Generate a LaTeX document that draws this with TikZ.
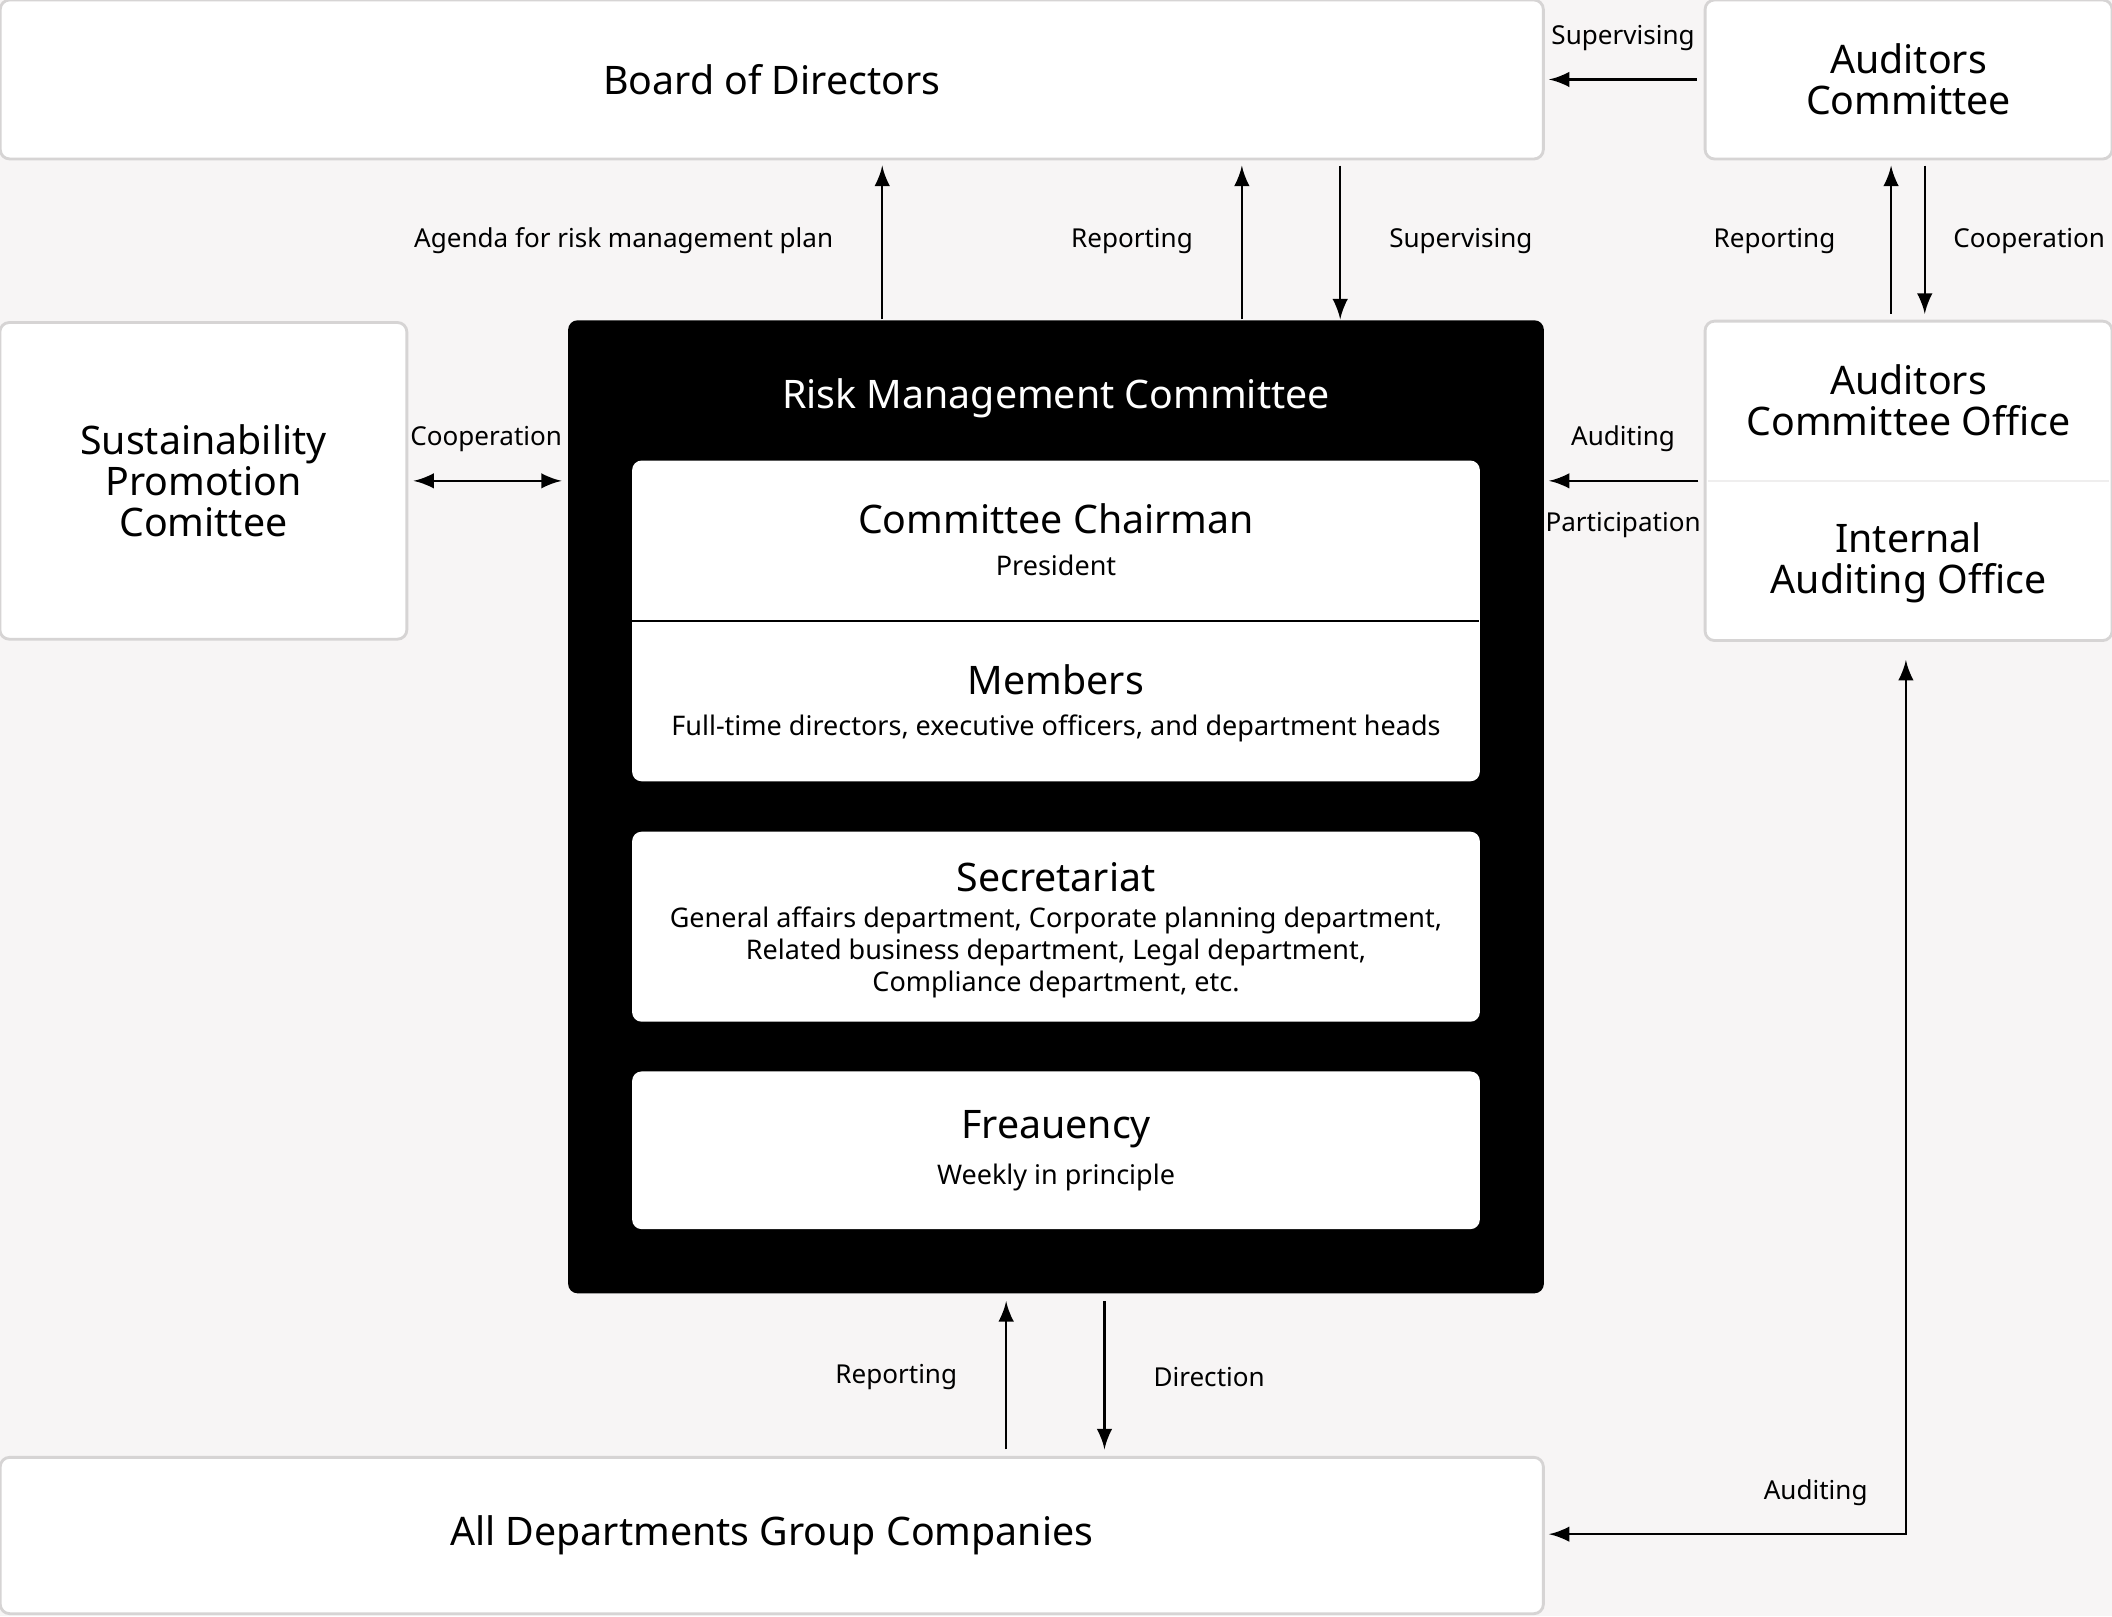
\documentclass[tikz,border=0pt]{standalone}
\usepackage{fontspec}
\setmainfont{Noto Sans}
\usetikzlibrary{positioning}
\definecolor{bg}{HTML}{F7F5F5}
\definecolor{edge}{HTML}{D6D4D4}
\tikzset{
  box/.style={draw=edge, fill=white, rounded corners=2pt, line width=0.6pt, align=center, inner sep=0pt},
  big/.style={font=\fontsize{8.3}{8.6}\selectfont\bfseries, align=center},
  small/.style={font=\fontsize{5.7}{5.9}\selectfont},
  lbl/.style={font=\fontsize{5.5}{6}\selectfont},
  arr/.style={-latex, line width=0.5pt}
}
\begin{document}
\begin{tikzpicture}[x=0.01cm, y=-0.01cm]
\fill[bg] (0,0) rectangle (1568,1200);
\useasboundingbox (0,0) rectangle (1568,1200);
% outer boxes
\node[box, big, minimum width=11.45cm, minimum height=1.18cm] (board) at (573,59) {Board of Directors};
\node[box, big, minimum width=3.02cm, minimum height=1.18cm] (audc) at (1417,59) {Auditors\\Committee};
\node[box, big, minimum width=3.02cm, minimum height=2.35cm] (sust) at (151,357) {Sustainability\\Promotion\\Comittee};
\node[box, minimum width=3.02cm, minimum height=2.37cm] (offices) at (1417,357) {};
\draw[edge!40] (1268,357) -- (1566,357);
\node[big] (aco) at (1417,297) {Auditors\\Committee Office};
\node[big] (iao) at (1417,418) {Internal\\Auditing Office};
\node[box, big, minimum width=11.45cm, minimum height=1.16cm] (alld) at (573,1140) {All Departments Group Companies};
% risk management committee
\node[fill=black, rounded corners=2pt, minimum width=7.24cm, minimum height=7.22cm] (rmc) at (784,599) {};
\node[big, text=white] (rmctitle) at (784,296) {Risk Management Committee};
\node[box, draw=none, minimum width=6.29cm, minimum height=2.38cm] (chair) at (784,461) {};
\draw (469,461) -- (1098,461);
\node[big] (chairt) at (784,385) {Committee Chairman};
\node[small] (chairs) at (784,420) {President};
\node[big] (memt) at (784,505) {Members};
\node[small] (mems) at (784,541) {Full-time directors, executive officers, and department heads};
\node[box, draw=none, minimum width=6.29cm, minimum height=1.41cm] (secr) at (784,688) {};
\node[big] (secrt) at (784,651) {Secretariat};
\node[small, align=center, font=\fontsize{5.7}{5.6}\selectfont] (secrs) at (784,707) {General affairs department, Corporate planning department,\\Related business department, Legal department,\\Compliance department, etc.};
\node[box, draw=none, minimum width=6.29cm, minimum height=1.17cm] (freq) at (784,854) {};
\node[big] (freqt) at (784,838) {Freauency};
\node[small] (freqs) at (784,874) {Weekly in principle};
% connectors
\draw[arr] (rmc.north -| 655,0) -- (655,123);
\node[lbl, anchor=east] (l1) at (631,179) {Agenda for risk management plan};
\draw[arr] (rmc.north -| 922,0) -- (922,123);
\node[lbl, anchor=east] (l2) at (898,179) {Reporting};
\draw[arr] (995,123) -- (rmc.north -| 995,0);
\node[lbl, anchor=west] (l3) at (1019,179) {Supervising};
\draw[arr] (audc.west) ++(-5,0) -- (1150,59);
\node[lbl] (l4) at (1205,28) {Supervising};
\draw[arr] (1404,233) -- (1404,123);
\node[lbl, anchor=east] (l5) at (1375,179) {Reporting};
\draw[arr] (1429,123) -- (1429,233);
\node[lbl, anchor=east, inner sep=1pt] (l6) at (1567,179) {Cooperation};
\draw[latex-latex, line width=0.5pt] (307,357) -- (417,357);
\node[lbl] (l7) at (361,326) {Cooperation};
\draw[arr] (1261,357) -- (1150,357);
\node[lbl] (l8) at (1205,326) {Auditing};
\node[lbl] (l9) at (1205,390) {Participation};
\draw[arr] (747,1076) -- (747,966);
\node[lbl, anchor=east] (l10) at (723,1022) {Reporting};
\draw[arr] (820,966) -- (820,1076);
\node[lbl, anchor=west] (l11) at (844,1022) {Direction};
\draw[latex-latex, line width=0.5pt] (1150,1139) -- (1415,1139) -- (1415,490);
\node[lbl] (l12) at (1348,1108) {Auditing};
\end{tikzpicture}
\end{document}
